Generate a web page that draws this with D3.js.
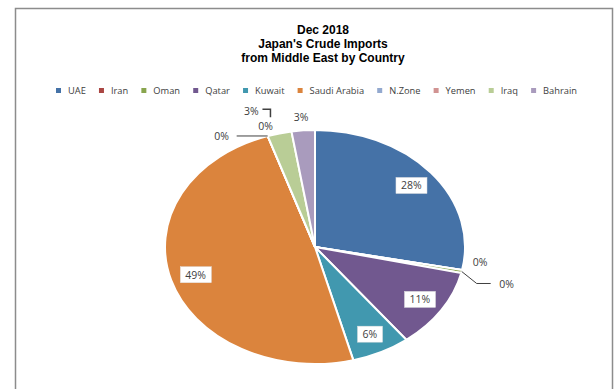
<!DOCTYPE html>
<html>
<head>
<meta charset="utf-8">
<script src="https://cdn.jsdelivr.net/npm/d3@7"></script>
<style>
  body { margin: 0; background: #fff; }
  svg { display: block; font-family: "Open Sans", sans-serif; }
</style>
</head>
<body>
<div id="chart"></div>
<script>
// data
const titleLines = ["Dec 2018", "Japan's Crude Imports", "from Middle East by Country"];
const countries = ["UAE", "Iran", "Oman", "Qatar", "Kuwait", "Saudi Arabia", "N.Zone", "Yemen", "Iraq", "Bahrain"];
const shares = [28.1, 0.0, 0.4, 11.0, 6.3, 48.9, 0.0, 0.0, 2.6, 2.5];
const colors = ["#4572a7", "#aa4643", "#89a54e", "#71588f", "#4198af", "#db843d", "#93a9cf", "#d19392", "#b9cd96", "#a99bbd"];

// label layout for small slices (offset from slice edge point, px) + leader style
const outsideLabels = {
    1: { dx: 18, dy: -8, leader: null },
    2: { dx: 45, dy: 13, leader: "bend" },
    6: { dx: -46, dy: 0, leader: "line" },
    7: { dx: -2, dy: -10, leader: null },
    8: { dx: -28, dy: -22, leader: "hook" },
    9: { dx: -2, dy: -13, leader: null }
};

const W = 615, H = 389;
const cx = 315, cy = 247, rx = 150, ry = 117;

const svg = d3.select("#chart").append("svg")
    .attr("width", W)
    .attr("height", H);

// frame (left, top, right)
svg.append("path")
    .attr("d", `M15.5,${H} V8.5 H612.5 V${H}`)
    .attr("fill", "none")
    .attr("stroke", "#8c8c8c")
    .attr("stroke-width", 1.5);

// title
svg.append("g")
    .attr("font-family", "'Liberation Sans', Arial, sans-serif")
    .attr("font-size", 12)
    .attr("font-weight", "bold")
    .attr("fill", "#000")
    .selectAll("text")
    .data(titleLines)
    .enter().append("text")
    .attr("x", 323)
    .attr("y", (d, i) => 34 + i * 14)
    .attr("text-anchor", "middle")
    .text(d => d);

// legend: spread items between x0 and x1
const legend = svg.append("g").attr("font-size", 9.3).attr("fill", "#404040");
const legX0 = 56, legX1 = 577, markGap = 12;
const legTexts = countries.map((c, i) => legend.append("text").attr("y", 94).text(c));
const textW = legTexts.map(t => t.node().getComputedTextLength());
const itemGap = (legX1 - legX0 - d3.sum(textW) - countries.length * markGap) / (countries.length - 1);
let lx = legX0;
countries.forEach((c, i) => {
    legend.append("rect")
        .attr("x", lx)
        .attr("y", 88)
        .attr("width", 5)
        .attr("height", 5)
        .attr("fill", colors[i]);
    legTexts[i].attr("x", lx + markGap);
    lx += markGap + textW[i] + itemGap;
});

// pie (drawn as a circle then squashed to an ellipse)
const pie = d3.pie().sort(null).value(d => d);
const arcs = pie(shares);
const arc = d3.arc().innerRadius(0).outerRadius(rx);

const pieG = svg.append("g")
    .attr("transform", `translate(${cx},${cy}) scale(1,${ry / rx})`);

pieG.selectAll("path")
    .data(arcs)
    .enter().append("path")
    .attr("d", arc)
    .attr("fill", (d, i) => colors[i])
    .attr("stroke", "#fff")
    .attr("stroke-width", 2)
    .attr("vector-effect", "non-scaling-stroke");

// helper: point on ellipse at pie angle
function pt(a, r) {
    return [cx + r * Math.sin(a), cy - r * Math.cos(a) * ry / rx];
}

const labelG = svg.append("g").attr("font-size", 10.5).attr("fill", "#404040");

arcs.forEach((d, i) => {
    const txt = Math.round(shares[i]) + "%";
    const mid = (d.startAngle + d.endAngle) / 2;
    if (outsideLabels[i]) {
        const o = outsideLabels[i];
        const [ex, ey] = pt(mid, rx);
        const x = ex + o.dx, y = ey + o.dy;
        labelG.append("text")
            .attr("x", x)
            .attr("y", y + 4)
            .attr("text-anchor", "middle")
            .text(txt);
        if (o.leader === "line") {
            labelG.append("path")
                .attr("d", `M${x + 15},${y} L${ex},${ey}`)
                .attr("stroke", "#404040").attr("fill", "none");
        } else if (o.leader === "bend") {
            labelG.append("path")
                .attr("d", `M${ex},${ey} L${x - 30},${y - 1} L${x - 16},${y - 1}`)
                .attr("stroke", "#404040").attr("fill", "none");
        } else if (o.leader === "hook") {
            labelG.append("path")
                .attr("d", `M${x + 11},${y - 2} H${x + 19} V${y + 6}`)
                .attr("stroke", "#404040").attr("fill", "none").attr("stroke-width", 1.5);
        }
    } else {
        const [x, y] = pt(mid, rx * 0.83);
        const t = labelG.append("text")
            .attr("x", x)
            .attr("y", y + 4)
            .attr("text-anchor", "middle")
            .text(txt);
        const b = t.node().getBBox();
        labelG.insert("rect", () => t.node())
            .attr("x", b.x - 5)
            .attr("y", b.y - 1)
            .attr("width", b.width + 10)
            .attr("height", b.height + 2)
            .attr("fill", "#fff")
            .attr("stroke", "#e0e0e0")
            .attr("stroke-width", 0.5);
    }
});
</script>
</body>
</html>
